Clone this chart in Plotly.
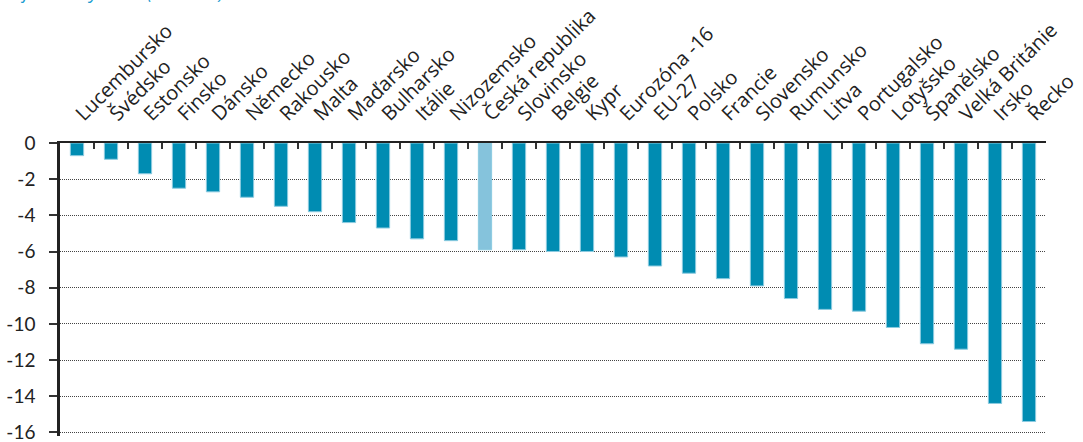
import plotly.graph_objects as go

# Saldo by country, % of GDP
countries = [
    "Lucembursko", "Švédsko", "Estonsko", "Finsko", "Dánsko", "Německo",
    "Rakousko", "Malta", "Maďarsko", "Bulharsko", "Itálie", "Nizozemsko",
    "Česká republika", "Slovinsko", "Belgie", "Kypr", "Eurozóna -16", "EU-27",
    "Polsko", "Francie", "Slovensko", "Rumunsko", "Litva", "Portugalsko",
    "Lotyšsko", "Španělsko", "Velká Británie", "Irsko", "Řecko",
]
values = [
    -0.7, -0.9, -1.7, -2.5, -2.7, -3.0,
    -3.5, -3.8, -4.4, -4.7, -5.3, -5.4,
    -5.9, -5.9, -6.0, -6.0, -6.3, -6.8,
    -7.2, -7.5, -7.9, -8.6, -9.2, -9.3,
    -10.2, -11.1, -11.4, -14.4, -15.4,
]
highlight = "Česká republika"

y_ticks = [0, -2, -4, -6, -8, -10, -12, -14, -16]

base_color = "#008cb2"
highlight_color = "#85c3dc"
colors = [highlight_color if c == highlight else base_color for c in countries]

fig = go.Figure(
    go.Bar(
        x=countries,
        y=values,
        marker=dict(color=colors, line=dict(color="#8ccbe0", width=1)),
        hoverinfo="x+y",
    )
)

fig.update_layout(
    width=1083,
    height=442,
    margin=dict(l=60, r=37, t=143, b=6, pad=0, autoexpand=False),
    paper_bgcolor="white",
    plot_bgcolor="white",
    bargap=0.61,
    showlegend=False,
    font=dict(family="Open Sans", color="#222222"),
)

fig.update_xaxes(
    type="category",
    side="top",
    automargin=False,
    tickangle=-45,
    tickfont=dict(family="Open Sans", size=20, color="#222222"),
    ticklabelstandoff=8,
    showline=True,
    linecolor="#222222",
    linewidth=2,
    ticks="inside",
    tickson="boundaries",
    ticklen=6,
    tickwidth=1.5,
    tickcolor="#333333",
    showgrid=False,
    fixedrange=True,
)

fig.update_yaxes(
    range=[-16.2, 0],
    automargin=False,
    tickvals=y_ticks,
    ticktext=[str(v) for v in y_ticks],
    tickfont=dict(family="Lato", size=19, color="#222222"),
    ticklabeloverflow="allow",
    showline=True,
    linecolor="#222222",
    linewidth=2.5,
    ticks="outside",
    ticklen=8,
    tickwidth=1.5,
    tickcolor="#333333",
    ticklabelstandoff=10,
    showgrid=True,
    gridcolor="#444444",
    gridwidth=1.2,
    griddash="1px,1px",
    zeroline=False,
    fixedrange=True,
)

# chart heading, sitting above the page edge
fig.add_annotation(
    text="Deficit vlády 2009 (v % HDP)",
    xref="paper", yref="paper",
    x=0, xshift=-60, y=1.0, yshift=137,
    xanchor="left", yanchor="bottom",
    showarrow=False,
    font=dict(family="Open Sans", size=18, color="#1a9cd0", style="italic"),
)

fig.write_html("out.html")
